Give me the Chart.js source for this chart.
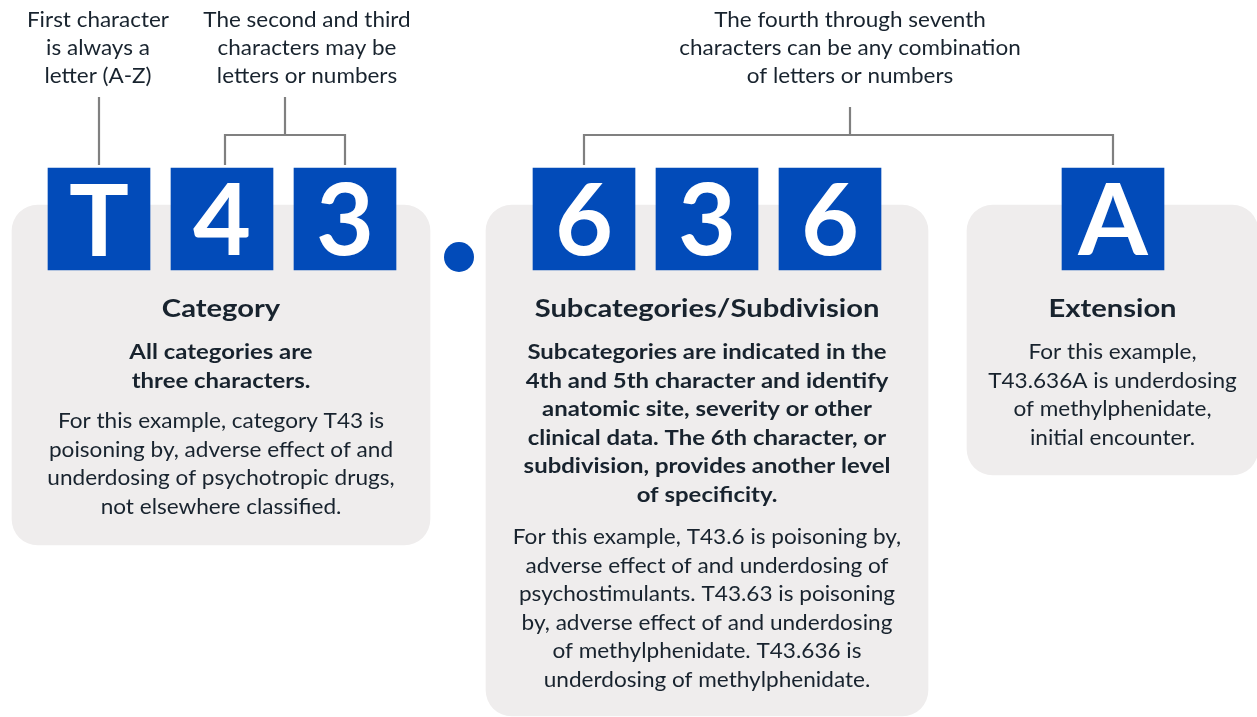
<!DOCTYPE html>
<html>
<head>
<meta charset="utf-8">
<script src="https://cdn.jsdelivr.net/npm/chart.js@4"></script>
<style>
  html, body { margin: 0; padding: 0; background: #ffffff; }
  #wrap { position: relative; width: 1257px; height: 717px; }
</style>
</head>
<body>
<div id="wrap"><canvas id="codeChart"></canvas></div>
<script>
// ---- content of the diagram ----
var codeChars = ['T', '4', '3', '6', '3', '6', 'A'];

var topLabels = [
  ['First character', 'is always a', 'letter (A-Z)'],
  ['The second and third', 'characters may be', 'letters or numbers'],
  ['The fourth through seventh', 'characters can be any combination', 'of letters or numbers']
];

var panelTitles = ['Category', 'Subcategories/Subdivision', 'Extension'];

var panelBold = [
  ['All categories are', 'three characters.'],
  ['Subcategories are indicated in the', '4th and 5th character and identify',
   'anatomic site, severity or other', 'clinical data. The 6th character, or',
   'subdivision, provides another level', 'of specificity.'],
  []
];

var panelText = [
  ['For this example, category T43 is', 'poisoning by, adverse effect of and',
   'underdosing of psychotropic drugs,', 'not elsewhere classified.'],
  ['For this example, T43.6 is poisoning by,', 'adverse effect of and underdosing of',
   'psychostimulants. T43.63 is poisoning', 'by, adverse effect of and underdosing',
   'of methylphenidate. T43.636 is', 'underdosing of methylphenidate.'],
  ['For this example,', 'T43.636A is underdosing', 'of methylphenidate,', 'initial encounter.']
];

// ---- layout (pixel units on the hidden axes) ----
var charX = [99, 222, 345, 584, 707, 830, 1113];
var boxTop = 168, boxBottom = 270, boxSize = 102;
var panels = [
  { x: 221, w: 418, top: 205, bottom: 545 },
  { x: 707, w: 442, top: 205, bottom: 716 },
  { x: 1112.5, w: 291, top: 205, bottom: 475 }
];
var labelX = [98, 307, 850];
var labelBase = [27, 55, 83];
var titleBase = 317;
var lineStep = 28.6;
var boldStart = 359;
var textStart = [428, 544, 359];

var BLUE = '#024bb9';
var GREY = '#efeded';
var LINE = '#808080';
var INK = '#18232e';
var FONT = 'Lato, "Noto Sans", sans-serif';

// font + horizontal stretch for each text style
var STYLE = {
  char:  { font: 'bold 100px ' + FONT, sx: 1.0 },
  label: { font: '21px ' + FONT, sx: 1.07 },
  title: { font: 'bold 24.5px ' + FONT, sx: 1.19 },
  bold:  { font: 'bold 21px ' + FONT, sx: 1.14 },
  text:  { font: '21px ' + FONT, sx: 1.075 }
};

var connectors = [
  [{x: 99, y: 97}, {x: 99, y: 165}],
  [{x: 225, y: 165}, {x: 225, y: 135}, {x: 345, y: 135}, {x: 345, y: 165}],
  [{x: 285, y: 135}, {x: 285, y: 97}],
  [{x: 584, y: 165}, {x: 584, y: 135}, {x: 1113, y: 135}, {x: 1113, y: 165}],
  [{x: 850, y: 135}, {x: 850, y: 107}]
];

var datasets = [];

panels.forEach(function (p, i) {
  datasets.push({
    type: 'bar',
    label: panelTitles[i],
    data: [{ x: p.x, y: [p.top, p.bottom] }],
    backgroundColor: GREY,
    borderWidth: 0,
    borderSkipped: false,
    borderRadius: 26,
    barThickness: p.w,
    grouped: false,
    order: 5
  });
});

datasets.push({
  type: 'bar',
  label: 'chars',
  data: codeChars.map(function (c, i) { return { x: charX[i], y: [boxTop, boxBottom] }; }),
  backgroundColor: BLUE,
  borderWidth: 0,
  borderSkipped: false,
  barThickness: boxSize,
  grouped: false,
  order: 1
});

connectors.forEach(function (pts) {
  datasets.push({
    type: 'line',
    data: pts,
    borderColor: LINE,
    borderWidth: 2.2,
    pointRadius: 0,
    tension: 0,
    fill: false,
    borderCapStyle: 'butt',
    order: 2
  });
});

datasets.push({
  type: 'scatter',
  data: [{ x: 459, y: 257 }],
  backgroundColor: BLUE,
  borderWidth: 0,
  pointRadius: 15,
  order: 1
});

function drawText(ctx, style, txt, x, y) {
  ctx.save();
  ctx.font = style.font;
  ctx.translate(x, y);
  ctx.scale(style.sx, 1);
  ctx.fillText(txt, 0, 0);
  ctx.restore();
}

// text is drawn on top with the scales
var textPlugin = {
  id: 'diagramText',
  afterDatasetsDraw: function (chart) {
    var ctx = chart.ctx;
    var xs = chart.scales.x, ys = chart.scales.y;
    ctx.save();
    ctx.textAlign = 'center';
    ctx.textBaseline = 'alphabetic';

    // characters inside the blue boxes
    ctx.fillStyle = '#ffffff';
    ctx.font = STYLE.char.font;
    codeChars.forEach(function (c, i) {
      var m = ctx.measureText(c);
      var mid = (boxTop + boxBottom) / 2;
      var base = mid + (m.actualBoundingBoxAscent - m.actualBoundingBoxDescent) / 2;
      drawText(ctx, STYLE.char, c, xs.getPixelForValue(charX[i]), ys.getPixelForValue(base));
    });

    ctx.fillStyle = INK;
    topLabels.forEach(function (lines, g) {
      lines.forEach(function (t, k) {
        drawText(ctx, STYLE.label, t, xs.getPixelForValue(labelX[g]), ys.getPixelForValue(labelBase[k]));
      });
    });

    panels.forEach(function (p, i) {
      var cx = xs.getPixelForValue(p.x);
      drawText(ctx, STYLE.title, panelTitles[i], cx, ys.getPixelForValue(titleBase));
      panelBold[i].forEach(function (t, k) {
        drawText(ctx, STYLE.bold, t, cx, ys.getPixelForValue(boldStart + k * lineStep));
      });
      panelText[i].forEach(function (t, k) {
        drawText(ctx, STYLE.text, t, cx, ys.getPixelForValue(textStart[i] + k * lineStep));
      });
    });
    ctx.restore();
  }
};

var ctx = document.getElementById('codeChart').getContext('2d');
var codeChart = new Chart(ctx, {
  type: 'bar',
  data: { datasets: datasets },
  options: {
    responsive: true,
    maintainAspectRatio: false,
    animation: false,
    events: [],
    layout: { padding: 0, autoPadding: false },
    plugins: { legend: { display: false }, tooltip: { enabled: false } },
    scales: {
      x: { type: 'linear', min: 0, max: 1257, display: false, offset: false },
      y: { type: 'linear', min: 0, max: 717, reverse: true, display: false }
    }
  },
  plugins: [textPlugin]
});
</script>
</body>
</html>
